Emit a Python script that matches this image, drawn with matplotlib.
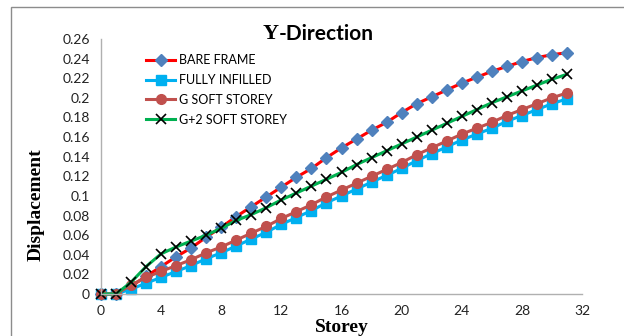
import matplotlib
matplotlib.use("Agg")
import matplotlib.pyplot as plt
from matplotlib.patches import Rectangle

# storey numbers and roof displacements for each frame model
storey = list(range(32))
bare_frame = [0, 0, 0.008, 0.018, 0.028, 0.038, 0.047, 0.058, 0.068, 0.079, 0.089,
              0.099, 0.109, 0.119, 0.128, 0.139, 0.149, 0.158, 0.167, 0.175, 0.185,
              0.194, 0.201, 0.208, 0.215, 0.221, 0.227, 0.232, 0.237, 0.241, 0.244, 0.246]
fully_infilled = [0, 0, 0.005, 0.011, 0.017, 0.023, 0.029, 0.036, 0.042, 0.049, 0.056,
                  0.063, 0.071, 0.078, 0.085, 0.093, 0.100, 0.107, 0.114, 0.121, 0.128,
                  0.136, 0.143, 0.150, 0.157, 0.163, 0.169, 0.176, 0.182, 0.188, 0.194, 0.199]
g_soft = [0, 0, 0.009, 0.017, 0.023, 0.029, 0.035, 0.042, 0.048, 0.055, 0.062,
          0.069, 0.077, 0.084, 0.091, 0.099, 0.106, 0.113, 0.120, 0.127, 0.134,
          0.142, 0.149, 0.156, 0.163, 0.169, 0.175, 0.182, 0.188, 0.194, 0.200, 0.205]
g2_soft = [0, 0, 0.012, 0.028, 0.041, 0.048, 0.054, 0.060, 0.067, 0.075, 0.081,
           0.088, 0.096, 0.103, 0.110, 0.117, 0.124, 0.132, 0.139, 0.146, 0.153,
           0.160, 0.167, 0.174, 0.181, 0.188, 0.195, 0.201, 0.207, 0.213, 0.219, 0.224]

labels = ["BARE FRAME", "FULLY INFILLED", "G SOFT STOREY", "G+2 SOFT STOREY"]
x_ticks = list(range(0, 33, 4))
y_ticks = [i / 100 for i in range(0, 27, 2)]
y_tick_labels = ["0", "0.02", "0.04", "0.06", "0.08", "0.1", "0.12", "0.14",
                 "0.16", "0.18", "0.2", "0.22", "0.24", "0.26"]

fig = plt.figure(figsize=(6.24, 3.36), dpi=100)
fig.patches.append(Rectangle((11 / 624, -0.05), 1.0, 1 - 7 / 336 + 0.05,
                             transform=fig.transFigure, fill=False,
                             edgecolor="#8c8c8c", linewidth=1.0))

ax = fig.add_axes([101 / 624, 1 - 294 / 336, 481 / 624, 255 / 336])

ax.plot(storey, bare_frame, color="#ff0000", lw=2.2, marker="D", ms=6,
        mfc="#4f81bd", mec="#4f81bd", label=labels[0], clip_on=False)
ax.plot(storey, fully_infilled, color="#00b0f0", lw=2.2, marker="s", ms=7,
        mfc="#00b0f0", mec="#00b0f0", label=labels[1], clip_on=False)
ax.plot(storey, g_soft, color="#c0504d", lw=2.2, marker="o", ms=7,
        mfc="#c0504d", mec="#c0504d", label=labels[2], clip_on=False)
ax.plot(storey, g2_soft, color="#00b050", lw=2.2, marker="x", ms=7, mew=1.2,
        mfc="black", mec="black", label=labels[3], clip_on=False)

ax.set_xlim(0, 32)
ax.set_ylim(0, 0.26)
ax.set_xticks(x_ticks)
ax.set_yticks(y_ticks)
ax.set_yticklabels(y_tick_labels)
ax.tick_params(length=0, labelsize=10, colors="#222222", pad=8)
for lab in ax.get_xticklabels() + ax.get_yticklabels():
    lab.set_fontfamily("Lato")
for side in ("top", "right"):
    ax.spines[side].set_visible(False)
for side in ("left", "bottom"):
    ax.spines[side].set_color("#b0b0b0")
    ax.spines[side].set_linewidth(1.0)

# title: serif "Y", sans-serif remainder
fig.text(279 / 624, 1 - 34 / 336, "Y", ha="right", va="center",
         fontsize=16, fontweight="bold", family="Liberation Serif")
fig.text(279 / 624, 1 - 34 / 336, "-Direction", ha="left", va="center",
         fontsize=15, fontweight="bold", family="Lato")
fig.text(342 / 624, 1 - 327 / 336, "Storey", ha="center", va="center",
         fontsize=14, fontweight="bold", family="Liberation Serif")
fig.text(36 / 624, 1 - 205 / 336, "Displacement", ha="center", va="center",
         rotation=90, fontsize=14, fontweight="bold", family="Liberation Serif")

ax.legend(loc="upper left", bbox_to_anchor=(140 / 624, 1 - 48 / 336),
          bbox_transform=fig.transFigure, frameon=False,
          prop={"family": "Lato", "size": 9}, handlelength=2.3,
          handletextpad=0.3, labelspacing=0.62, borderpad=0)

fig.savefig("out.png", dpi=100)
